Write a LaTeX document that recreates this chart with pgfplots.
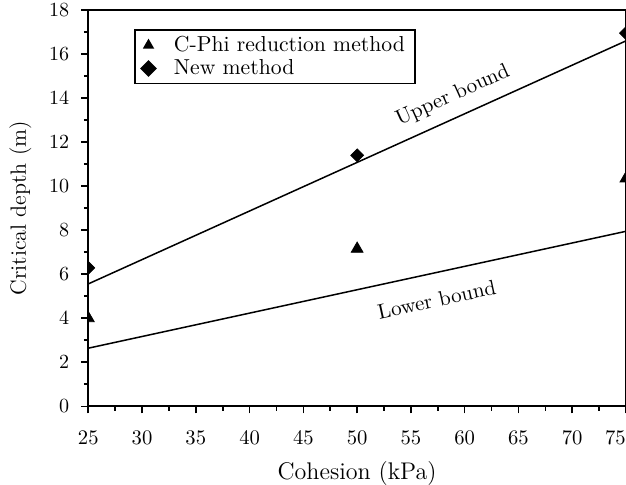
\documentclass[border=0pt]{standalone}
\usepackage{pgfplots}
\pgfplotsset{compat=1.18}
\begin{document}
\begin{tikzpicture}
\begin{axis}[
  width=268pt, height=197.5pt, scale only axis,
  xmin=25, xmax=75, ymin=0, ymax=18,
  xtick={25,30,...,75}, ytick={0,2,...,18},
  xticklabels={25,30,35,40,45,50,55,60,65,70,{75\hspace*{10.5pt}}},
  minor x tick num=1, minor y tick num=1,
  tick align=outside, tick pos=left,
  major tick length=3.5pt, minor tick length=2.2pt,
  axis line style={line width=1pt},
  every tick/.style={black, line width=0.8pt},
  xlabel={Cohesion (kPa)}, ylabel={Critical depth (m)},
  ticklabel style={font=\fontsize{10.3}{12}\selectfont},
  xticklabel style={yshift=-5pt},
  yticklabel style={xshift=-2.5pt},
  xlabel style={font=\fontsize{12}{14}\selectfont, yshift=-1.5pt},
  ylabel style={font=\fontsize{11}{13}\selectfont, yshift=2pt},
  clip marker paths=true,
  legend style={at={(0.0858,0.951)}, anchor=north west, draw=black, line width=0.7pt,
    font=\fontsize{10.8}{12}\selectfont, inner xsep=3pt, inner ysep=1pt, row sep=-1.5pt,
    cells={anchor=west}, /tikz/every odd column/.append style={column sep=7pt}},
  legend cell align=left,
  legend image post style={mark size=2.6pt},
]
\addplot[only marks, mark=triangle*, mark size=3.4pt, black] coordinates {(25,4.0) (50,7.15) (75,10.35)};
\addlegendentry{C-Phi reduction method}
\addplot[only marks, mark=square*, mark options={rotate=45}, mark size=2.25pt, black] coordinates {(25,6.29) (50,11.4) (75,16.95)};
\addlegendentry{New method}
\addplot[black, line width=0.75pt, forget plot] coordinates {(25,5.56) (75,16.6)};
\addplot[black, line width=0.75pt, forget plot] coordinates {(25,2.64) (75,7.95)};
\node[rotate=24.4, font=\fontsize{10.5}{12}\selectfont] at (axis cs:58.9,14.1) {Upper bound};
\node[rotate=12.3, font=\fontsize{10.5}{12}\selectfont] at (axis cs:57.4,4.85) {Lower bound};
\end{axis}
\pgfresetboundingbox
\path ([xshift=-44pt,yshift=-39pt]current axis.south west) rectangle ([yshift=5pt]current axis.north east);
\end{tikzpicture}
\end{document}
